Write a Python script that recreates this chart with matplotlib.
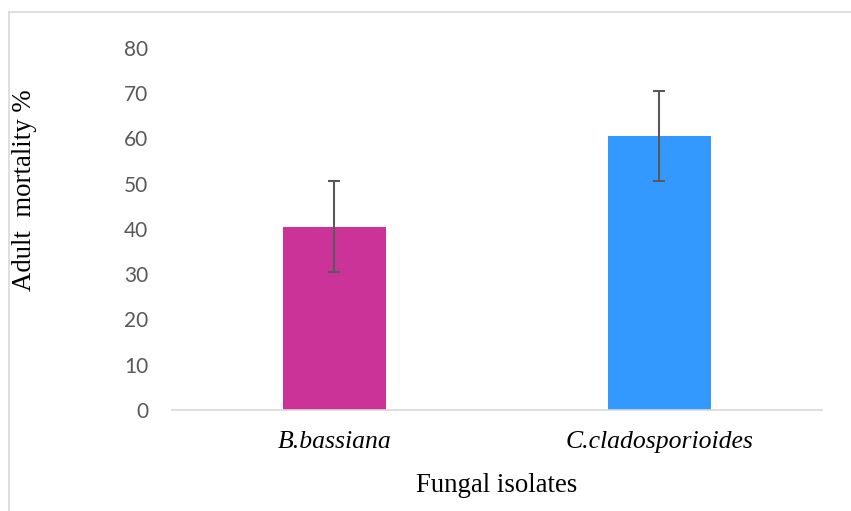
import matplotlib
matplotlib.use("Agg")
from matplotlib import pyplot as plt
from matplotlib.lines import Line2D

isolates = ["B.bassiana", "C.cladosporioides"]
mortality = [40.5, 60.5]
errors = [10, 10]
colors = ["#CC3399", "#3399FF"]
y_ticks = [0, 10, 20, 30, 40, 50, 60, 70, 80]

fig = plt.figure(figsize=(8.51, 5.11), dpi=100)
ax = fig.add_axes([0.2021, 0.1977, 0.7638, 0.7084])

x = range(len(isolates))
ax.bar(x, mortality, width=0.317, color=colors, zorder=2)
ax.errorbar(x, mortality, yerr=errors, fmt="none", ecolor="#595959",
            elinewidth=1.5, capsize=4.5, capthick=1.5, zorder=3)

ax.set_xlim(-0.5, 1.5)
ax.set_ylim(0, 80)
ax.set_yticks(y_ticks)
ax.set_yticklabels([str(t) for t in y_ticks], fontfamily="Lato",
                   fontsize=15, color="#595959")
ax.set_xticks(list(x))
ax.set_xticklabels(isolates, fontfamily="Liberation Serif", fontstyle="italic",
                   fontsize=18.5, color="black")
ax.tick_params(axis="both", length=0)
ax.tick_params(axis="x", pad=15)
ax.tick_params(axis="y", pad=17)

for s in ["top", "right", "left"]:
    ax.spines[s].set_visible(False)
ax.spines["bottom"].set_color("#D9D9D9")
ax.spines["bottom"].set_linewidth(1.2)

fig.text(0.584, 0.05, "Fungal isolates", ha="center", va="center",
         fontfamily="Liberation Serif", fontsize=19.3)
fig.text(0.029, 0.628, "Adult  mortality %", ha="center", va="center",
         rotation=90, fontfamily="Liberation Serif", fontsize=19.3)

# outer chart border (only top and left visible in the crop)
fig.add_artist(Line2D([0.0105, 1.0], [1 - 12.5 / 511, 1 - 12.5 / 511],
                      color="#D9D9D9", lw=1.2, transform=fig.transFigure))
fig.add_artist(Line2D([0.0105, 0.0105], [0.0, 1 - 12.5 / 511],
                      color="#D9D9D9", lw=1.2, transform=fig.transFigure))

fig.savefig("out.png", dpi=100)
